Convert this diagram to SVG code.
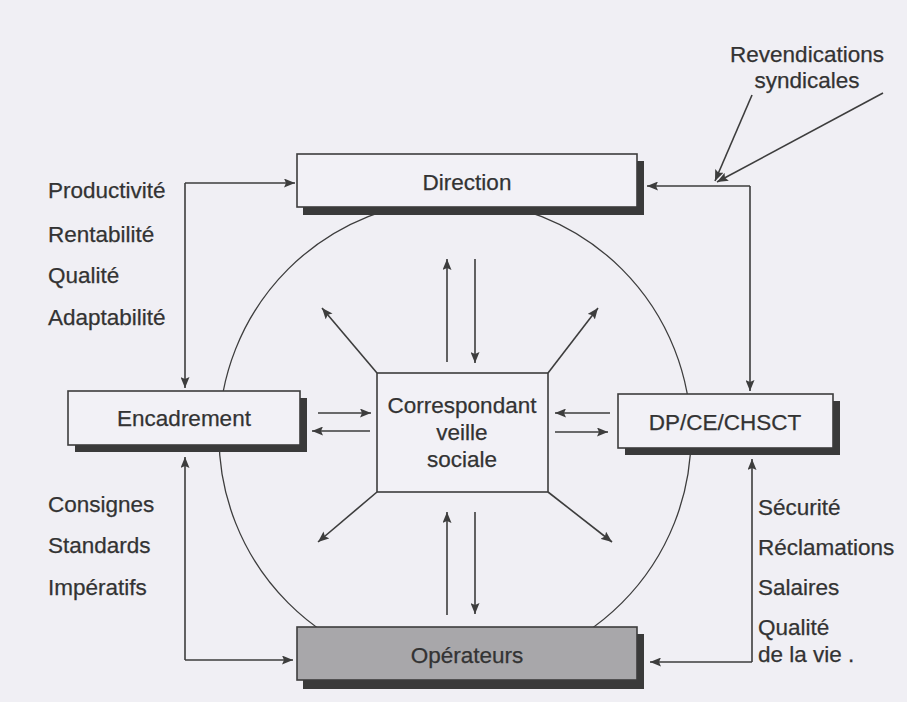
<svg xmlns="http://www.w3.org/2000/svg" width="907" height="702" viewBox="0 0 907 702">
<style>
text{font-family:"Liberation Sans",Arial,sans-serif;fill:#333333;font-size:22.5px;stroke:#333333;stroke-width:0.25}
.c{text-anchor:middle}
.box{fill:#f2f1f6;stroke:#3d3d3d;stroke-width:1.6}
.gbox{fill:#a8a7aa;stroke:#3d3d3d;stroke-width:1.6}
.sh{fill:#3a3a3a}
.ln{fill:none;stroke:#3d3d3d;stroke-width:1.3}
.arr{fill:none;stroke:#3d3d3d;stroke-width:1.6;marker-end:url(#ah)}
</style>
<defs>
<marker id="ah" markerUnits="userSpaceOnUse" markerWidth="12" markerHeight="9" refX="11" refY="4.5" orient="auto">
<path d="M0,0 L11,4.5 L0,9 L2,4.5 z" fill="#3d3d3d"/>
</marker>
</defs>
<rect width="907" height="702" fill="#f0eff4"/>
<g id="circle"><circle cx="455" cy="436" r="236" class="ln"/></g>
<g id="connectors">
<path class="arr" d="M185,183 H295"/>
<path class="arr" d="M185,183 V388"/>
<path class="arr" d="M185,660 V457"/>
<path class="arr" d="M185,660 H293"/>
<path class="arr" d="M750,186 H647"/>
<path class="arr" d="M750,186 V391"/>
<path class="arr" d="M752,662 V459"/>
<path class="arr" d="M752,662 H650"/>
<path class="arr" d="M752,95 L715,181"/>
<path class="arr" d="M883,93 L717,182"/>
<path class="arr" d="M447,362 V259"/>
<path class="arr" d="M475,259 V363"/>
<path class="arr" d="M447,615 V512"/>
<path class="arr" d="M475,512 V614"/>
<path class="arr" d="M377,373 L322,308"/>
<path class="arr" d="M548,373 L598,308"/>
<path class="arr" d="M377,492 L318,542"/>
<path class="arr" d="M548,492 L612,542"/>
<path class="arr" d="M318,413 H371"/>
<path class="arr" d="M370,431 H312"/>
<path class="arr" d="M610,413 H555"/>
<path class="arr" d="M555,432 H608"/>
</g>
<g id="direction">
<rect class="sh" x="303" y="161" width="341" height="54"/>
<rect class="box" x="297" y="154" width="340" height="53"/>
<text class="c" x="467" y="190">Direction</text>
</g>
<g id="encadrement">
<rect class="sh" x="75" y="398" width="232" height="54"/>
<rect class="box" x="68" y="391" width="232" height="54"/>
<text class="c" x="184" y="426">Encadrement</text>
</g>
<g id="correspondant">
<rect class="box" x="377" y="373" width="171" height="119"/>
<text class="c" x="462" y="413">Correspondant</text>
<text class="c" x="462" y="440">veille</text>
<text class="c" x="462" y="467">sociale</text>
</g>
<g id="dp">
<rect class="sh" x="625" y="401" width="215" height="54"/>
<rect class="box" x="618" y="394" width="215" height="54"/>
<text class="c" x="725" y="430">DP/CE/CHSCT</text>
</g>
<g id="operateurs">
<rect class="sh" x="303" y="634" width="341" height="55"/>
<rect class="gbox" x="297" y="627" width="340" height="53"/>
<text class="c" x="467" y="663">Opérateurs</text>
</g>
<g id="revendications">
<text class="c" x="807" y="62">Revendications</text>
<text class="c" x="807" y="88">syndicales</text>
</g>
<g id="labels-left-top">
<text x="48" y="198">Productivité</text>
<text x="48" y="242">Rentabilité</text>
<text x="48" y="283">Qualité</text>
<text x="48" y="325">Adaptabilité</text>
</g>
<g id="labels-left-bottom">
<text x="48" y="512">Consignes</text>
<text x="48" y="553">Standards</text>
<text x="48" y="595">Impératifs</text>
</g>
<g id="labels-right">
<text x="758" y="515">Sécurité</text>
<text x="758" y="555">Réclamations</text>
<text x="758" y="595">Salaires</text>
<text x="758" y="635">Qualité</text>
<text x="758" y="662">de la vie .</text>
</g>
</svg>
